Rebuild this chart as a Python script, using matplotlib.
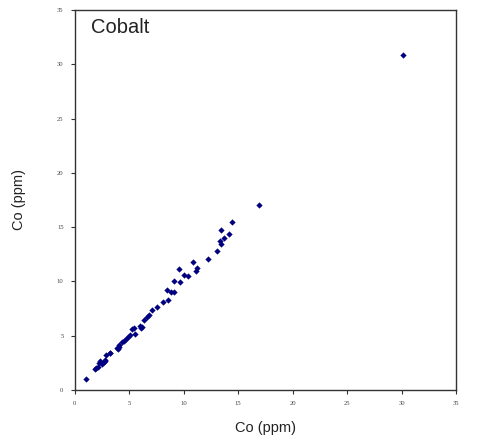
import numpy as np
import matplotlib.pyplot as plt

# cobalt: method A vs method B (ppm)
co_x = [1.0, 1.9, 2.0, 2.1, 2.2, 2.3, 2.5, 2.7, 2.8, 2.8, 2.9, 3.2, 3.2,
        3.9, 4.0, 4.1, 4.1, 4.3, 4.5, 4.7, 4.9, 5.1, 5.3, 5.4, 5.5,
        6.0, 6.1, 6.2, 6.4, 6.6, 6.8, 7.1, 7.6, 8.1, 8.5, 8.6, 8.8, 9.1,
        9.1, 9.6, 9.7, 10.0, 10.4, 10.9, 11.1, 11.2, 12.2, 13.1, 13.3,
        13.4, 13.4, 13.7, 14.2, 14.4, 16.9, 30.1]
co_y = [1.0, 1.9, 2.0, 2.1, 2.5, 2.7, 2.4, 2.6, 2.8, 2.7, 3.2, 3.4, 3.4,
        3.9, 3.8, 4.0, 4.1, 4.4, 4.5, 4.7, 4.9, 5.1, 5.6, 5.7, 5.2,
        5.9, 5.7, 5.8, 6.4, 6.7, 6.9, 7.4, 7.6, 8.1, 9.2, 8.3, 9.0, 9.0,
        10.0, 11.1, 9.9, 10.6, 10.5, 11.8, 11.0, 11.2, 12.1, 12.8, 13.7,
        14.7, 13.4, 14.0, 14.4, 15.5, 17.0, 30.9]
ticks = [0, 5, 10, 15, 20, 25, 30, 35]

fig = plt.figure(figsize=(4.81, 4.46), dpi=100)
ax = fig.add_axes([0.1553, 0.1256, 0.7927, 0.852])

ax.plot(co_x, co_y, linestyle='none', marker='D', markersize=3.2,
        color='#000080', markeredgewidth=0)

ax.set_xlim(0, 35)
ax.set_ylim(0, 35)
ax.set_xticks(ticks)
ax.set_yticks(ticks)
for lab in ax.get_xticklabels() + ax.get_yticklabels():
    lab.set_family('Liberation Serif')
    lab.set_fontsize(4.8)
    lab.set_color('#444444')
ax.tick_params(direction='out', length=3, width=0.8, color='#333333', pad=5)
for s in ax.spines.values():
    s.set_linewidth(1.0)
    s.set_color('#333333')

ax.set_xlabel('Co (ppm)', family='Liberation Sans', fontsize=10.5,
              color='#222222', labelpad=11)
ax.set_ylabel('Co (ppm)', family='Liberation Sans', fontsize=10.5,
              color='#222222', labelpad=22)
ax.text(0.043, 0.978, 'Cobalt', transform=ax.transAxes, ha='left', va='top',
        family='Liberation Sans', fontsize=14.5, color='#222222')

fig.savefig('out.png', dpi=100)
